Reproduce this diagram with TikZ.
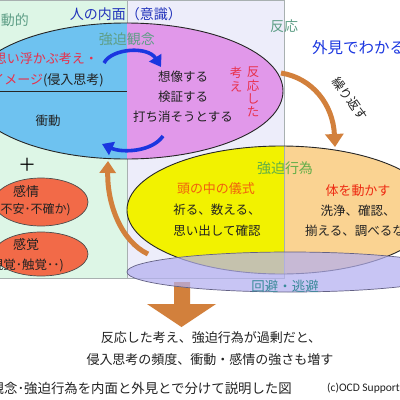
\documentclass[tikz,border=0pt]{standalone}
\usepackage{fontspec}
\setmainfont{Noto Sans CJK JP}
\newfontfamily\latinfont{Carlito}
\usetikzlibrary{arrows.meta}
\definecolor{pgreen}{HTML}{DDF6E6}
\definecolor{plav}{HTML}{EDEDFA}
\definecolor{pborder}{HTML}{A8B0B0}
\definecolor{cblue}{HTML}{6EC2F0}
\definecolor{cviolet}{HTML}{E198EA}
\definecolor{cyellow}{HTML}{F2F200}
\definecolor{corange}{HTML}{FAD392}
\definecolor{clav}{HTML}{B4B0F0}
\definecolor{cred}{HTML}{F26A48}
\definecolor{carrow}{HTML}{D2803C}
\definecolor{barrowc}{HTML}{1A36E0}
\definecolor{ttitle}{HTML}{2233BB}
\definecolor{tgreen}{HTML}{5E9E86}
\definecolor{tgreen2}{HTML}{62AE48}
\definecolor{tteal}{HTML}{3A8A9A}
\definecolor{tred}{HTML}{E8304A}
\definecolor{torange}{HTML}{F0600E}
\definecolor{tred2}{HTML}{EE2A12}
\definecolor{tdark}{HTML}{222222}
\tikzset{
  txt/.style={inner sep=0pt, text=tdark, font=\fontsize{12.5}{14}\selectfont},
  bigtxt/.style={inner sep=0pt, font=\fontsize{14}{16}\selectfont},
  outl/.style={draw=black!85, line width=0.9pt},
  barrow/.style={draw=barrowc, line width=3.6pt, -{Triangle[length=11pt,width=14pt]}},
  oarrow/.style={draw=carrow, line width=5pt, -{Triangle[length=13pt,width=18pt]}},
}
\begin{document}
\begin{tikzpicture}[x=1pt,y=-1pt]
\useasboundingbox (0,0) rectangle (400,400);
\clip (0,0) rectangle (400,400);
\fill[white] (0,0) rectangle (400,400);
% panels
\fill[pgreen] (0,0) rectangle (127,278);
\fill[plav] (127,0) rectangle (284,278);
\draw[pborder, line width=0.6pt] (0,278) -- (284,278) -- (284,0);
\draw[pborder, line width=0.6pt] (127,0) -- (127,278);
\draw[pborder, line width=0.6pt] (0,0.3) -- (284,0.3);
% top ellipse
\begin{scope}
  \clip (126,91) ellipse [x radius=157pt, y radius=68pt];
  \fill[cblue] (-40,0) rectangle (127,200);
  \fill[cviolet] (127,0) rectangle (300,200);
  \draw[black!85, line width=0.8pt] (-40,91) -- (127,91);
\end{scope}
\draw[outl] (126,91) ellipse [x radius=157pt, y radius=68pt];
% bottom ellipse
\begin{scope}
  \clip (281,210) ellipse [x radius=154pt, y radius=64pt];
  \fill[cyellow] (100,130) rectangle (284,290);
  \fill[corange] (284,130) rectangle (450,290);
  \draw[pborder, line width=0.6pt] (284,130) -- (284,290);
\end{scope}
\draw[outl] (281,210) ellipse [x radius=154pt, y radius=64pt];
% big down arrow
\fill[carrow] (174,282) -- (190,282) -- (190,304) -- (216,304) -- (181.5,327) -- (147,304) -- (174,304) -- cycle;
% avoidance ellipse
\fill[clav, fill opacity=0.72] (290,272) ellipse [x radius=163pt, y radius=20pt];
\draw[draw=black!45!clav, line width=0.7pt] (290,272) ellipse [x radius=163pt, y radius=20pt];
% red ellipses
\draw[fill=cred, draw=black!70, line width=0.7pt] (41,202) ellipse [x radius=47pt, y radius=24pt];
\draw[fill=cred, draw=black!70, line width=0.7pt] (41,254) ellipse [x radius=47pt, y radius=22pt];
% arrows
\coordinate (bt1) at (104,63);
\coordinate (bt2) at (161,67);
\coordinate (bb1) at (163,136);
\coordinate (bb2) at (102,144);
\draw[barrow] (bt1) .. controls (112,48) and (148,46) .. (bt2);
\draw[barrow] (bb1) .. controls (152,152) and (122,153) .. (bb2);
\coordinate (or1) at (281,73);
\coordinate (or2) at (335,147);
\draw[oarrow] (or1) .. controls (312,78) and (333,104) .. (or2);
\coordinate (ol1) at (148,254);
\coordinate (ol2) at (108,161);
\draw[oarrow, -{Triangle[length=12pt,width=16pt]}] (ol1) .. controls (122,242) and (107,205) .. (ol2);
% texts
\node[bigtxt, text=tgreen, anchor=east] (t1) at (29,20) {動的};
\node[bigtxt, text=ttitle] (title) at (126,14) {人の内面（意識）};
\node[bigtxt, text=tgreen] (kan) at (127,39) {強迫観念};
\node[bigtxt, text=tgreen] (han) at (284,26) {反応};
\node[bigtxt, text=barrowc, anchor=west, font=\fontsize{15.5}{17}\selectfont] (gai) at (312,48) {外見でわかる};
\node[txt, text=tred, anchor=east, font=\fontsize{13}{15}\selectfont] (omoi) at (98,59) {思い浮かぶ考え・};
\node[txt, anchor=east, font=\fontsize{13}{15}\selectfont] (ime) at (104,80) {\textcolor{tred}{イメージ}(侵入思考)};
\node[txt] (sho) at (48,121) {衝動};
\node[txt] (so) at (183,77) {想像する};
\node[txt] (ken) at (183,97) {検証する};
\node[txt] (uchi) at (183,117) {打ち消そうとする};
\node[txt, text=tred, align=center, font=\fontsize{12.5}{13.3}\selectfont, anchor=north] (hv) at (253,67) {反\\応\\し\\た};
\node[txt, text=tred, align=center, font=\fontsize{12.5}{13.3}\selectfont, anchor=north] (kv) at (236,67) {考\\え};
\node[txt, rotate=-55] (kuri) at (350,99) {繰り返す};
\node[bigtxt, text=tgreen2] (kyo) at (285,168) {強迫行為};
\node[txt, text=torange, font=\fontsize{13}{15}\selectfont] (atama) at (216,189) {頭の中の儀式};
\node[txt] (ino) at (217,210) {祈る、数える、};
\node[txt] (omoi2) at (217,231) {思い出して確認};
\node[txt, text=tred2, font=\fontsize{13}{15}\selectfont] (karada) at (358,191) {体を動かす};
\node[txt] (sen) at (358,211) {洗浄、確認、};
\node[txt, anchor=west] (soro) at (305,231) {揃える、調べるなど};
\node[bigtxt, text=tteal, font=\fontsize{13.5}{15}\selectfont] (kai) at (285,286) {回避・逃避};
\node[inner sep=0pt, font=\fontsize{18}{18}\selectfont] (plus) at (27,165) {＋};
\node[txt, font=\fontsize{13}{15}\selectfont] (kanjo) at (26,192) {感情};
\node[txt, font=\fontsize{12}{13}\selectfont, anchor=east] (fuan) at (71,210) {(不安･不確か)};
\node[txt, font=\fontsize{13}{15}\selectfont] (kankaku) at (26,245) {感覚};
\node[txt, font=\fontsize{12.5}{13}\selectfont, anchor=east] (shi) at (64,265) {(視覚･触覚･･)};
\node[txt, font=\fontsize{13}{15}\selectfont] (b1) at (211,338) {反応した考え、強迫行為が過剰だと、};
\node[txt, font=\fontsize{13}{15}\selectfont] (b2) at (210,360) {侵入思考の頻度、衝動・感情の強さも増す};
\node[txt, font=\fontsize{13.4}{14}\selectfont, anchor=east] (cap) at (292,388) {強迫観念･強迫行為を内面と外見とで分けて説明した図};
\node[txt, font=\latinfont\fontsize{11.5}{13}\selectfont, anchor=west] (copy) at (327,388) {(c)OCD Support};
\end{tikzpicture}
\end{document}
